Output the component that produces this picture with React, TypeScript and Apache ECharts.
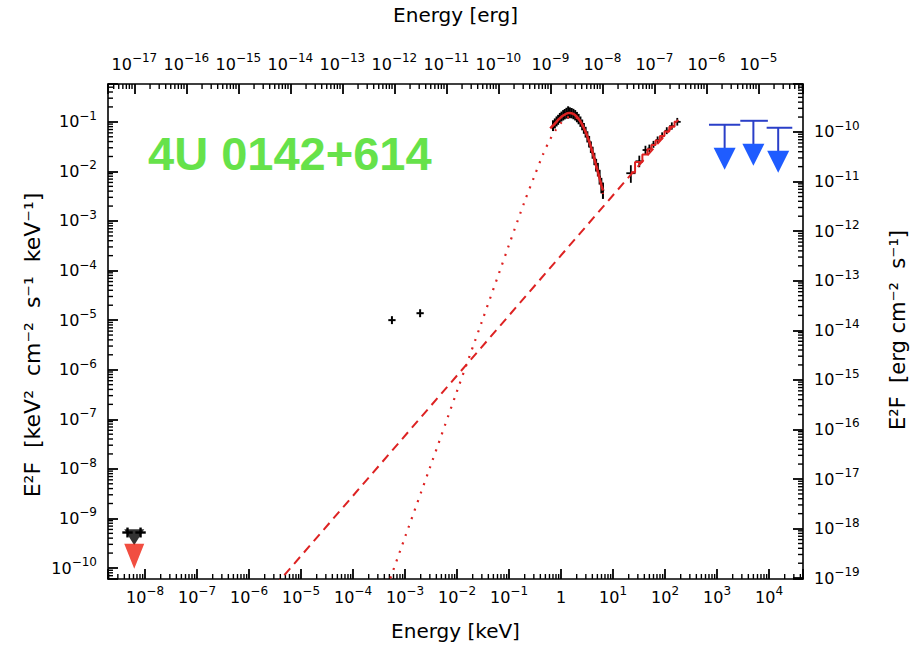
import React, { useEffect, useRef } from 'react';
import * as echarts from 'echarts';

// ---------- constants ----------
const KEV_TO_ERG = 1.602e-9;
const X_RANGE_KEV = [1.94e-9, 4.5e4];
const Y_RANGE = [6.0e-11, 0.58];

// ---------- data (E in keV, E^2F in keV^2 cm^-2 s^-1 keV^-1) ----------
// soft X-ray spectrum
const softE = [0.70, 0.76, 0.82, 0.88, 0.95, 1.02, 1.10, 1.18, 1.27, 1.37, 1.48, 1.60, 1.73, 1.87, 2.02, 2.18, 2.36, 2.55, 2.75, 2.97, 3.21, 3.47, 3.75, 4.05, 4.38, 4.73, 5.11, 5.52, 5.96, 6.40];
const softF = [0.084, 0.093, 0.102, 0.110, 0.120, 0.128, 0.136, 0.143, 0.150, 0.156, 0.153, 0.150, 0.144, 0.136, 0.125, 0.114, 0.101, 0.087, 0.074, 0.062, 0.050, 0.040, 0.031, 0.024, 0.018, 0.0135, 0.0110, 0.0078, 0.0053, 0.0042];
const softErr = [0.28, 0.26, 0.26, 0.26, 0.26, 0.26, 0.27, 0.27, 0.28, 0.32, 0.28, 0.27, 0.27, 0.27, 0.27, 0.27, 0.27, 0.28, 0.28, 0.28, 0.29, 0.30, 0.30, 0.31, 0.32, 0.33, 0.35, 0.38, 0.40, 0.42];

// hard X-ray spectrum
const hardE = [22, 32, 42, 50, 60, 72, 88, 108, 135, 172];
const hardElo = [18, 27, 37, 46, 55, 66, 80, 98, 120, 150];
const hardEhi = [27, 37, 46, 55, 66, 80, 98, 120, 150, 200];
const hardF = [0.0092, 0.016, 0.027, 0.029, 0.035, 0.043, 0.052, 0.066, 0.082, 0.100];
const hardErr = [0.45, 0.30, 0.22, 0.20, 0.18, 0.18, 0.18, 0.18, 0.19, 0.20];

// optical / IR points
const optE = [5.6e-4, 1.95e-3];
const optF = [1.0e-5, 1.38e-5];

// low-energy points and upper limits
const lowE = [4.6e-9, 8.2e-9];
const lowF = [5.2e-10, 5.2e-10];
const lowBlackLimitE = [6.2e-9];
const lowBlackLimitF = [5.0e-10];
const lowRedLimitE = [6.2e-9];
const lowRedLimitF = [3.0e-10];

// gamma-ray upper limits (band lo, band hi, arrow position, flux)
const ulElo = [700, 2800, 9000];
const ulEhi = [2800, 9500, 28000];
const ulEc = [1400, 5000, 15000];
const ulF = [0.087, 0.105, 0.076];

// models
const modelSoftE = [0.62, 0.70, 0.80, 0.90, 1.0, 1.1, 1.2, 1.3, 1.4, 1.5, 1.65, 1.8, 2.0, 2.2, 2.4, 2.6, 2.8, 3.0, 3.3, 3.6, 4.0, 4.4, 4.8, 5.2, 5.6, 6.0, 6.4];
const modelSoftF = [0.074, 0.084, 0.098, 0.112, 0.124, 0.134, 0.142, 0.148, 0.151, 0.151, 0.148, 0.141, 0.128, 0.113, 0.099, 0.085, 0.072, 0.061, 0.047, 0.036, 0.025, 0.0175, 0.0125, 0.0092, 0.0068, 0.0052, 0.0041];
const modelHardE = [22, 32, 42, 50, 60, 72, 88, 108, 135, 172];
const modelHardF = [0.0095, 0.0155, 0.022, 0.028, 0.034, 0.042, 0.052, 0.064, 0.080, 0.100];
const bbE = [3.5e-4, 1e-3, 3e-3, 1e-2, 3e-2, 0.1, 0.2, 0.3, 0.45, 0.6, 0.8, 1.0, 1.3, 1.6, 2.0, 2.6, 3.3, 4.2, 5.2, 6.4];
const bbF = [1.9e-11, 4.2e-10, 1.05e-8, 3.7e-7, 9.3e-6, 3.3e-4, 2.5e-3, 7.5e-3, 0.022, 0.042, 0.07, 0.095, 0.12, 0.13, 0.12, 0.085, 0.048, 0.02, 0.009, 0.0035];
const plE = [2e-6, 180];
const plF = [2.5e-11, 0.11];

// ---------- helpers ----------
const L = Math.log10;
const LE = L(KEV_TO_ERG);
const X0 = L(X_RANGE_KEV[0]);
const X1 = L(X_RANGE_KEV[1]);
const Y0 = L(Y_RANGE[0]);
const Y1 = L(Y_RANGE[1]);

const decadeLabel = (v: number) => {
  const r = Math.round(v);
  if (Math.abs(v - r) > 1e-6) return '';
  if (r === 0) return '{b|1}';
  return '{b|10}{s|' + String(r).replace('-', '\u2212') + '}';
};

const minorTicks = (lo: number, hi: number) => {
  const out: number[] = [];
  for (let d = Math.floor(lo) - 1; d <= Math.ceil(hi); d++) {
    for (let m = 2; m <= 9; m++) {
      const v = d + Math.log10(m);
      if (v > lo + 0.01 && v < hi - 0.01) out.push(v);
    }
  }
  return out;
};

const FONT = '"DejaVu Sans", "Liberation Sans", sans-serif';
const RED = '#dd2222';

function tickSeries(xi: number, yi: number, pts: number[][], dx: number, dy: number, len: number) {
  return {
    type: 'custom',
    xAxisIndex: xi,
    yAxisIndex: yi,
    silent: true,
    clip: false,
    data: pts,
    renderItem: (params: any, api: any) => {
      const p = api.coord([api.value(0), api.value(1)]);
      return {
        type: 'line',
        shape: { x1: p[0], y1: p[1], x2: p[0] + dx * len, y2: p[1] + dy * len },
        style: { stroke: '#000', lineWidth: 1.4 },
      };
    },
  };
}

function crossSeries(data: number[][], color: string, width: number) {
  return {
    type: 'custom',
    silent: true,
    data,
    renderItem: (params: any, api: any) => {
      const x = api.value(0), y = api.value(1);
      const pL = api.coord([api.value(2), y]);
      const pR = api.coord([api.value(3), y]);
      const pB = api.coord([x, api.value(4)]);
      const pT = api.coord([x, api.value(5)]);
      return {
        type: 'group',
        children: [
          { type: 'line', shape: { x1: pL[0], y1: pL[1], x2: pR[0], y2: pR[1] }, style: { stroke: color, lineWidth: width } },
          { type: 'line', shape: { x1: pB[0], y1: pB[1], x2: pT[0], y2: pT[1] }, style: { stroke: color, lineWidth: width } },
        ],
      };
    },
  };
}

export default function App() {
  const ref = useRef<HTMLDivElement>(null);
  useEffect(() => {
    if (!ref.current) return;
    const chart = echarts.init(ref.current, null, { renderer: 'svg' });

    const labelCommon = {
      formatter: decadeLabel,
      color: '#000',
      fontFamily: FONT,
      rich: {
        b: { fontSize: 16, lineHeight: 24, verticalAlign: 'bottom', fontFamily: FONT, color: '#000', padding: [0, 0, 4, 0] },
        s: { fontSize: 12, lineHeight: 12, verticalAlign: 'top', fontFamily: FONT, color: '#000' },
      },
    };

    const axisCommon = {
      type: 'value',
      minInterval: 1,
      maxInterval: 1,
      splitLine: { show: false },
      axisLine: { show: true, onZero: false, lineStyle: { color: '#000', width: 1.6 } },
      axisTick: { show: true, inside: true, length: 10, lineStyle: { color: '#000', width: 1.8 } },
      nameTextStyle: { color: '#000', fontSize: 20, fontFamily: FONT },
      nameLocation: 'middle',
    };

    const softData = softE.map((e, i) => {
      const lx = L(e), ly = L(softF[i]);
      const hw = 0.024;
      return [lx, ly, lx - hw, lx + hw, ly + L(1 - softErr[i] * 0.8), ly + L(1 + softErr[i])];
    });
    const hardData = hardE.map((e, i) => {
      const ly = L(hardF[i]);
      return [L(e), ly, L(hardElo[i]), L(hardEhi[i]), ly + L(1 - hardErr[i] * 0.8), ly + L(1 + hardErr[i])];
    });
    const optData = optE.map((e, i) => {
      const lx = L(e), ly = L(optF[i]);
      return [lx, ly, lx - 0.07, lx + 0.07, ly - 0.08, ly + 0.08];
    });
    const lowData = lowE.map((e, i) => {
      const lx = L(e), ly = L(lowF[i]);
      return [lx, ly, lx - 0.1, lx + 0.1, ly - 0.1, ly + 0.1];
    });

    const option: any = {
      animation: false,
      backgroundColor: '#ffffff',
      grid: { left: 108, right: 119, top: 79, bottom: 58, show: false },
      xAxis: [
        {
          ...axisCommon, position: 'bottom', min: X0, max: X1, splitNumber: 13,
          axisLabel: { ...labelCommon, margin: 6 },
          name: 'Energy [keV]', nameGap: 42,
        },
        {
          ...axisCommon, position: 'top', min: X0 + LE, max: X1 + LE, splitNumber: 13,
          axisLabel: { ...labelCommon, margin: 8 },
          name: 'Energy [erg]', nameGap: 59,
        },
      ],
      yAxis: [
        {
          ...axisCommon, position: 'left', min: Y0, max: Y1, splitNumber: 10,
          axisLabel: { ...labelCommon, margin: 11 },
        },
        {
          ...axisCommon, position: 'right', min: Y0 + LE, max: Y1 + LE, splitNumber: 10,
          axisLabel: { ...labelCommon, margin: 11 },
        },
      ],
      graphic: [
        {
          type: 'text', left: 148, top: 130, z: 100,
          style: { text: '4U 0142+614', fill: '#66e24a', fontSize: 47, fontWeight: 'bold', fontFamily: '"Liberation Sans", Arial, sans-serif' },
        },
        {
          type: 'text', x: 32, y: 345, rotation: Math.PI / 2, z: 100,
          style: { text: 'E\u00B2F  [keV\u00B2  cm\u207B\u00B2  s\u207B\u00B9  keV\u207B\u00B9]', fill: '#000', fontSize: 22, fontFamily: FONT, align: 'center', verticalAlign: 'middle' },
        },
        {
          type: 'text', x: 898, y: 330, rotation: Math.PI / 2, z: 100,
          style: { text: 'E\u00B2F  [erg cm\u207B\u00B2  s\u207B\u00B9]', fill: '#000', fontSize: 21, fontFamily: FONT, align: 'center', verticalAlign: 'middle' },
        },
      ],
      series: [
        // minor ticks
        tickSeries(0, 0, minorTicks(X0, X1).map((v) => [v, Y0]), 0, -1, 5),
        tickSeries(1, 0, minorTicks(X0 + LE, X1 + LE).map((v) => [v, Y1]), 0, 1, 5),
        tickSeries(0, 0, minorTicks(Y0, Y1).map((v) => [X0, v]), 1, 0, 5),
        tickSeries(0, 1, minorTicks(Y0 + LE, Y1 + LE).map((v) => [X1, v]), -1, 0, 5),
        // power law (dashed)
        {
          type: 'line', showSymbol: false, symbol: 'none', silent: true, clip: true,
          data: plE.map((e, i) => [L(e), L(plF[i])]),
          lineStyle: { color: RED, width: 2, type: [9, 6] },
        },
        // blackbody (dotted)
        {
          type: 'line', showSymbol: false, symbol: 'none', silent: true, clip: true, smooth: 0.3,
          data: bbE.map((e, i) => [L(e), L(bbF[i])]),
          lineStyle: { color: RED, width: 2.2, type: [2, 7] },
        },
        // data
        crossSeries(softData, '#000', 2),
        crossSeries(hardData, '#000', 1.8),
        crossSeries(optData, '#000', 2),
        crossSeries(lowData, '#000', 2.4),
        {
          type: 'scatter', silent: true, symbol: 'triangle', symbolRotate: 180, symbolSize: [20, 16],
          symbolOffset: [0, 4],
          itemStyle: { color: '#000' },
          data: lowBlackLimitE.map((e, i) => [L(e), L(lowBlackLimitF[i])]),
        },
        {
          type: 'scatter', silent: true, symbol: 'triangle', symbolRotate: 180, symbolSize: [20, 25],
          symbolOffset: [0, 12],
          itemStyle: { color: '#ee2211' },
          data: lowRedLimitE.map((e, i) => [L(e), L(lowRedLimitF[i])]),
        },
        // total model
        {
          type: 'line', showSymbol: false, symbol: 'none', silent: true, smooth: 0.3,
          data: modelSoftE.map((e, i) => [L(e), L(modelSoftF[i])]),
          lineStyle: { color: RED, width: 2.6 },
        },
        {
          type: 'line', showSymbol: false, symbol: 'none', silent: true, step: 'middle',
          data: modelHardE.map((e, i) => [L(e), L(modelHardF[i])]),
          lineStyle: { color: RED, width: 2 },
        },
        // upper limits
        {
          type: 'custom', silent: true,
          data: ulElo.map((lo, i) => [L(ulEc[i]), L(ulF[i]), L(lo), L(ulEhi[i])]),
          renderItem: (params: any, api: any) => {
            const y = api.value(1);
            const pc = api.coord([api.value(0), y]);
            const pl = api.coord([api.value(2), y]);
            const pr = api.coord([api.value(3), y]);
            return {
              type: 'group',
              children: [
                { type: 'line', shape: { x1: pl[0], y1: pl[1], x2: pr[0], y2: pr[1] }, style: { stroke: '#2a3fc8', lineWidth: 2 } },
                { type: 'line', shape: { x1: pc[0], y1: pc[1], x2: pc[0], y2: pc[1] + 26 }, style: { stroke: '#2a3fc8', lineWidth: 2 } },
                { type: 'polygon', shape: { points: [[pc[0] - 11, pc[1] + 23], [pc[0] + 11, pc[1] + 23], [pc[0], pc[1] + 45]] }, style: { fill: '#1f5cff' } },
              ],
            };
          },
        },
      ],
    };
    chart.setOption(option);
    return () => chart.dispose();
  }, []);
  return <div ref={ref} style={{ position: 'fixed', left: 0, top: 0, width: 922, height: 646, background: '#fff' }} />;
}
